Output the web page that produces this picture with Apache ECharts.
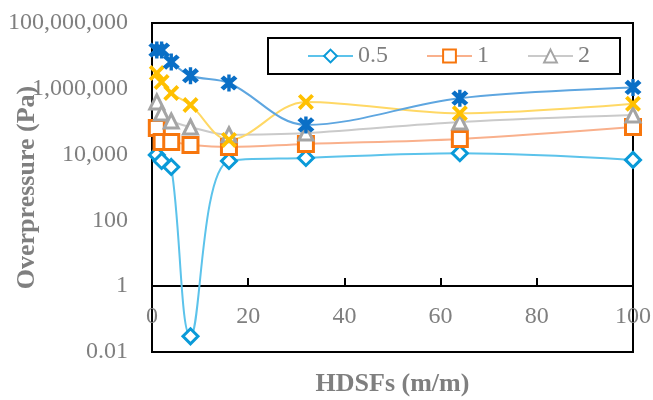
<!DOCTYPE html>
<html>
<head>
<meta charset="utf-8">
<script src="https://cdn.jsdelivr.net/npm/echarts@6/dist/echarts.min.js"></script>
<style>
html,body{margin:0;padding:0;background:#fff;}
#chart{width:653px;height:400px;}
</style>
</head>
<body>
<div id="chart"></div>
<script>
// Data
var xValues = [1, 2, 4, 8, 16, 32, 64, 100];
var s05 = [9800, 6400, 4200, 0.03, 6400, 7900, 11000, 6900];
var s1 = [64000, 24000, 24000, 19500, 17000, 21000, 30000, 69000];
var s2 = [400000, 184000, 105000, 69000, 40000, 45000, 98000, 160000];
var s4 = [3000000, 1600000, 750000, 320000, 28000, 400000, 180000, 350000];
var s8 = [15000000, 15000000, 6500000, 2500000, 1500000, 80000, 520000, 1100000];
var legendNames = ['0.5', '1', '2'];
var xTicks = [0, 20, 40, 60, 80, 100];

function pairs(vals){ return xValues.map(function(x,i){ return [x, vals[i]]; }); }

var serif = '"Liberation Serif","Times New Roman",serif';
var xPath = 'path://M0,1.7 L1.7,0 L5,3.3 L8.3,0 L10,1.7 L6.7,5 L10,8.3 L8.3,10 L5,6.7 L1.7,10 L0,8.3 L3.3,5 Z';
var starPath = 'path://M0,2 L2,0 L5,3 L8,0 L10,2 L7,5 L10,8 L8,10 L5,7 L2,10 L0,8 L3,5 Z M4,-0.6 L6,-0.6 L6,10.6 L4,10.6 Z';
var sm = 0.35;

var chart = echarts.init(document.getElementById('chart'));
chart.setOption({
  animation: false,
  grid: {left: 152, right: 20, top: 23, bottom: 48, show: true, borderColor: '#000', borderWidth: 2, backgroundColor: 'transparent', containLabel: false, outerBoundsMode: 'none'},
  legend: {
    data: legendNames,
    left: 268, top: 38,
    padding: [6, 30, 6, 39],
    itemGap: 38,
    itemWidth: 45, itemHeight: 16,
    borderColor: '#000', borderWidth: 2,
    textStyle: {fontFamily: serif, fontSize: 24, color: '#7f7f7f'}
  },
  xAxis: {
    type: 'value', min: 0, max: 100, interval: 20,
    offset: -66,
    name: 'HDSFs (m/m)', nameLocation: 'middle', nameGap: 85, nameMoveOverlap: false,
    nameTextStyle: {fontFamily: serif, fontSize: 26, fontWeight: 'bold', color: '#7f7f7f'},
    axisLine: {show: true, lineStyle: {color: '#000', width: 2}},
    axisTick: {show: true, inside: true, length: 8, lineStyle: {color: '#000', width: 2}},
    axisLabel: {margin: 19, fontFamily: serif, fontSize: 24, color: '#7f7f7f',
      formatter: function(v){ return xTicks.indexOf(v) >= 0 ? String(v) : ''; }},
    splitLine: {show: false}
  },
  yAxis: {
    type: 'log', logBase: 10, min: 0.01, max: 100000000, interval: 2,
    name: 'Overpressure (Pa)', nameLocation: 'middle', nameGap: 112, nameMoveOverlap: false,
    nameTextStyle: {fontFamily: serif, fontSize: 26, fontWeight: 'bold', color: '#7f7f7f'},
    axisLine: {show: true, lineStyle: {color: '#000', width: 2}},
    axisTick: {show: false},
    axisLabel: {margin: 24, fontFamily: serif, fontSize: 24, color: '#7f7f7f',
      formatter: function(v){
        if (v < 1) return String(+v.toPrecision(2));
        return Math.round(v).toLocaleString('en-US');
      }},
    splitLine: {show: false}
  },
  series: [
    {name: '0.5', type: 'line', smooth: sm, data: pairs(s05), symbol: 'diamond', symbolSize: 15,
      lineStyle: {color: '#5cc3eb', width: 2},
      itemStyle: {color: '#ffffff', borderColor: '#0a9ad8', borderWidth: 3}},
    {name: '1', type: 'line', smooth: sm, data: pairs(s1), symbol: 'rect', symbolSize: 15,
      lineStyle: {color: '#f9b08c', width: 2},
      itemStyle: {color: '#ffffff', borderColor: '#f7760d', borderWidth: 3}},
    {name: '2', type: 'line', smooth: sm, data: pairs(s2), symbol: 'triangle', symbolSize: 14,
      lineStyle: {color: '#cacaca', width: 2},
      itemStyle: {color: '#ffffff', borderColor: '#a5a5a5', borderWidth: 3}},
    {name: '4', type: 'line', smooth: sm, data: pairs(s4), symbol: xPath, symbolSize: 16,
      lineStyle: {color: '#ffd865', width: 2},
      itemStyle: {color: '#ffc000', borderWidth: 0}},
    {name: '8', type: 'line', smooth: sm, data: pairs(s8), symbol: starPath, symbolSize: 17,
      lineStyle: {color: '#5ea6e0', width: 2},
      itemStyle: {color: '#0a6fc6', borderWidth: 0}}
  ]
});
</script>
</body>
</html>
